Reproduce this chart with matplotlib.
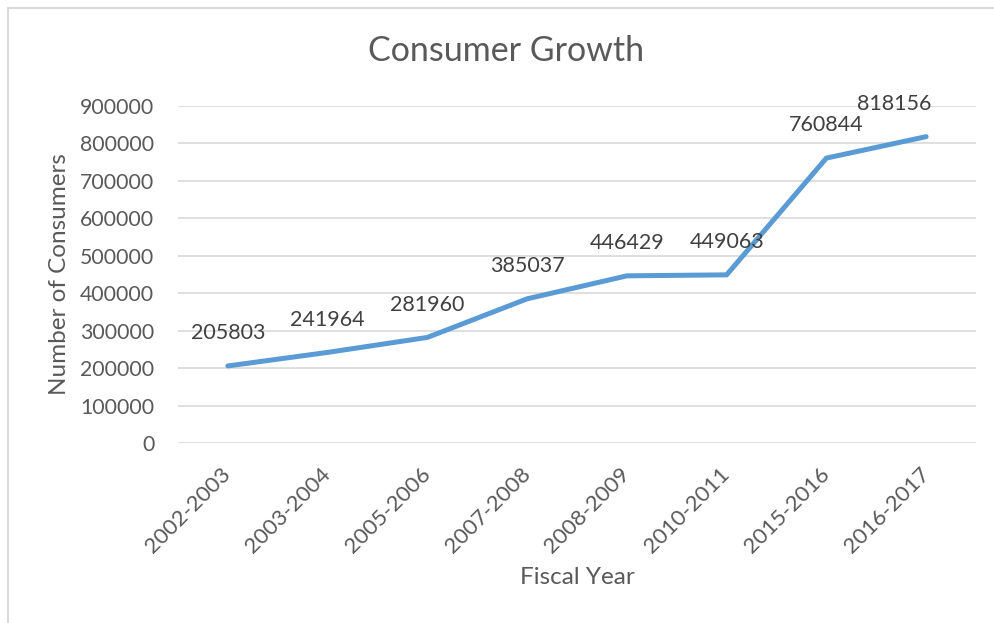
import matplotlib
matplotlib.use("Agg")
import matplotlib.pyplot as plt
from matplotlib.patches import Rectangle

# ── data ──────────────────────────────────────────────────────────────────────
fiscal_years = ["2002-2003", "2003-2004", "2005-2006", "2007-2008",
                "2008-2009", "2010-2011", "2015-2016", "2016-2017"]
consumers = [205803, 241964, 281960, 385037, 446429, 449063, 760844, 818156]
y_ticks = [0, 100000, 200000, 300000, 400000, 500000, 600000, 700000, 800000, 900000]

TEXT = "#595959"
LABEL = "#404040"
LINE = "#5B9BD5"
GRID = "#D9D9D9"

plt.rcParams["font.family"] = ["Lato", "DejaVu Sans"]

W, H = 994, 623
fig = plt.figure(figsize=(W / 100, H / 100), dpi=100)
ax = fig.add_axes([178 / W, 1 - 443 / H, (976 - 178) / W, (443 - 106) / H])

x = range(len(fiscal_years))
ax.plot(x, consumers, color=LINE, lw=3.6, solid_capstyle="round",
        solid_joinstyle="miter", zorder=3)

# value labels above each point; the last one is nudged left to stay inside
for xi, v in zip(x, consumers):
    dx = -23 if xi == len(consumers) - 1 else 0
    ax.annotate(f"{v}", (xi, v), xytext=(dx, 23.5), textcoords="offset points",
                ha="center", va="center", fontsize=15.5, color=LABEL, zorder=4)

ax.set_xlim(-0.5, len(fiscal_years) - 0.5)
ax.set_ylim(0, 900000)
ax.set_yticks(y_ticks)
ax.set_yticklabels([str(t) for t in y_ticks])
ax.set_xticks(list(x))
ax.set_xticklabels(fiscal_years, rotation=45, ha="right", va="center",
                   rotation_mode="anchor")

ax.grid(axis="y", color=GRID, lw=1.2)
ax.set_axisbelow(True)
for s in ax.spines.values():
    s.set_visible(False)
ax.tick_params(axis="y", length=0, pad=17, labelsize=15.3, labelcolor=TEXT)
ax.tick_params(axis="x", length=0, pad=20, labelsize=16, labelcolor=TEXT)

fig.text(577 / W, 1 - 578 / H, "Fiscal Year", ha="center", va="center",
         fontsize=17.5, color=TEXT)
fig.text(60 / W, 1 - 274 / H, "Number of Consumers", ha="center", va="center",
         rotation=90, fontsize=17.5, color=TEXT)
fig.text(506 / W, 1 - 51 / H, "Consumer Growth",
         ha="center", va="center", fontsize=24.5, color=TEXT)

# chart area frame
fig.patches.append(Rectangle((7.5 / W, -0.1), 1.2, 1.1 - 7.5 / H,
                             transform=fig.transFigure, fill=False,
                             edgecolor=GRID, lw=1.5))

fig.savefig("out.png", dpi=100)
